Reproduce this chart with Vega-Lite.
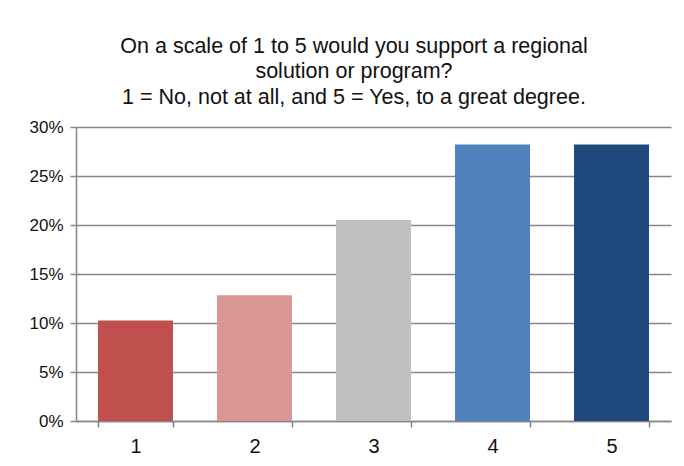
{
  "$schema": "https://vega.github.io/schema/vega-lite/v6.json",
  "autosize": {"type": "none"},
  "width": 595,
  "height": 294,
  "padding": {"left": 76, "top": 127, "right": 13, "bottom": 45},
  "background": "white",
  "title": {
    "text": ["On a scale of 1 to 5 would you support a regional", "solution or program?", "1 = No, not at all, and 5 = Yes, to a great degree."],
    "anchor": "middle",
    "frame": "bounds",
    "offset": 10,
    "dx": 4,
    "font": "Liberation Sans",
    "fontSize": 21.5,
    "fontWeight": "normal",
    "color": "#111111",
    "lineHeight": 25.5
  },
  "data": {
    "values": [
      {"rating": "1", "share": 0.1026},
      {"rating": "2", "share": 0.1282},
      {"rating": "3", "share": 0.2051},
      {"rating": "4", "share": 0.2821},
      {"rating": "5", "share": 0.2821}
    ]
  },
  "mark": {"type": "bar"},
  "encoding": {
    "x": {
      "field": "rating",
      "type": "ordinal",
      "sort": null,
      "scale": {"paddingInner": 0.37, "paddingOuter": 0.185},
      "axis": {
        "title": null,
        "labelAngle": 0,
        "grid": false,
        "tickBand": "extent",
        "tickSize": 6,
        "labelPadding": 9,
        "labelFontSize": 20,
        "labelFont": "Liberation Sans",
        "labelColor": "#111111",
        "domainColor": "#868686",
        "tickColor": "#868686",
        "domainWidth": 1.5,
        "tickWidth": 1.5
      }
    },
    "y": {
      "field": "share",
      "type": "quantitative",
      "scale": {"domain": [0, 0.3], "nice": false},
      "axis": {
        "title": null,
        "format": ".0%",
        "values": [0, 0.05, 0.1, 0.15, 0.2, 0.25, 0.3],
        "tickSize": 6,
        "labelPadding": 7,
        "labelFontSize": 17,
        "labelFont": "Liberation Sans",
        "labelColor": "#111111",
        "grid": true,
        "gridColor": "#868686",
        "gridWidth": 1.5,
        "domainColor": "#868686",
        "tickColor": "#868686",
        "domainWidth": 1.5,
        "tickWidth": 1.5
      }
    },
    "color": {
      "field": "rating",
      "type": "nominal",
      "scale": {
        "domain": ["1", "2", "3", "4", "5"],
        "range": ["#C0504D", "#D99694", "#BFBFBF", "#4F81BD", "#1F497D"]
      },
      "legend": null
    }
  },
  "config": {
    "view": {"stroke": null}
  }
}
